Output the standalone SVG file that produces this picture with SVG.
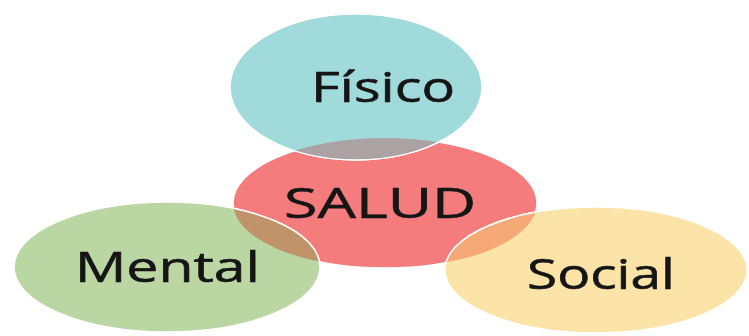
<svg xmlns="http://www.w3.org/2000/svg" width="749" height="336" viewBox="0 0 749 336">
<style>
.ell{stroke:#ffffff;stroke-width:1.5}
.lbl{font-family:"Open Sans","DejaVu Sans",sans-serif;font-size:42px;fill:#151515;stroke:#151515;stroke-width:0.6;text-anchor:start}
</style>
<defs>
<clipPath id="cSalud"><ellipse cx="385" cy="203" rx="152" ry="65"/></clipPath>
</defs>
<rect width="749" height="336" fill="#ffffff"/>
<g id="salud"><ellipse class="ell" cx="385" cy="203" rx="152" ry="65" fill="#f47c7c"/></g>
<g id="mental"><ellipse class="ell" cx="167" cy="267" rx="153" ry="65" fill="#b9d6a3"/></g>
<g id="social"><ellipse class="ell" cx="596" cy="270" rx="151" ry="63" fill="#fce4a8"/></g>
<g id="fisico"><ellipse class="ell" cx="356" cy="87" rx="126" ry="73" fill="#a1dadb"/></g>
<g id="overlaps" clip-path="url(#cSalud)">
<ellipse cx="356" cy="87" rx="126" ry="73" fill="#aba3a3" stroke="#ffffff" stroke-width="1.5"/>
<ellipse cx="167" cy="267" rx="153" ry="65" fill="#c1936a" stroke="#ffffff" stroke-width="1.5"/>
<ellipse cx="596" cy="270" rx="151" ry="63" fill="#f6a877" stroke="#ffffff" stroke-width="1.5"/>
</g>
<g id="labels">
<text class="lbl" transform="translate(311,102) scale(1.33,1)">Físico</text>
<text class="lbl" transform="translate(284,218) scale(1.45,1)">SALUD</text>
<text class="lbl" transform="translate(75,282) scale(1.36,1)">Mental</text>
<text class="lbl" transform="translate(527,289) scale(1.31,1)">Social</text>
</g>
<g id="connectors"></g>
</svg>
